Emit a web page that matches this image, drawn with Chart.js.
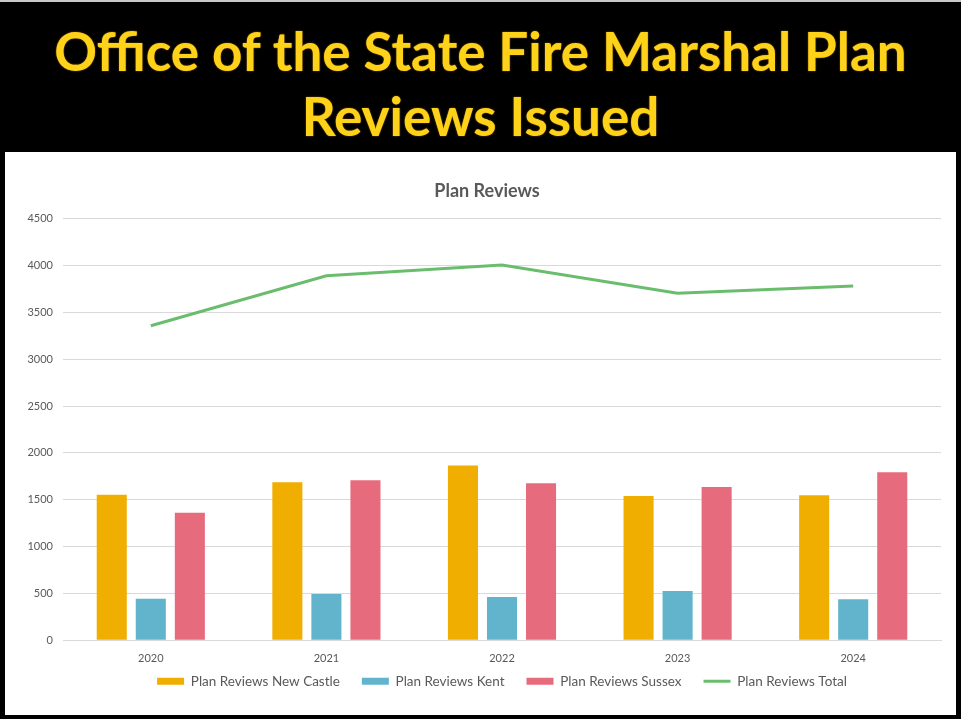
<!DOCTYPE html>
<html>
<head>
<meta charset="utf-8">
<script src="https://cdn.jsdelivr.net/npm/chart.js@4.4.0/dist/chart.umd.min.js"></script>
<style>
  html, body { margin: 0; padding: 0; background: #000; }
  #page { position: relative; width: 961px; height: 719px; background: #000; overflow: hidden; }
  #topline { position: absolute; left: 0; top: 0; width: 961px; height: 2px; background: #c8c8c8; }
  #header {
    position: absolute; left: 0; top: 18px; width: 961px;
    text-align: center; color: #ffd21a;
    font-family: Lato, sans-serif; font-weight: bold; font-size: 53px; line-height: 65px;
    text-shadow: 0 0 2px #6b4a00, 0 0 1px #6b4a00;
  }
  #panel { position: absolute; left: 5px; top: 152px; width: 951px; height: 563px; background: #fff; }
</style>
</head>
<body>
<div id="page">
  <div id="topline"></div>
  <div id="header">Office of the State Fire Marshal Plan<br>Reviews Issued</div>
  <div id="panel"><canvas id="reviewsChart" width="951" height="563"></canvas></div>
</div>
<script>
// data
var years = ['2020', '2021', '2022', '2023', '2024'];
var newCastle = [1552, 1687, 1865, 1541, 1548];
var kent = [444, 494, 462, 526, 438];
var sussex = [1360, 1709, 1677, 1637, 1794];
var total = [3356, 3890, 4004, 3704, 3780];

var grey = '#595959';

// pull the legend up closer to the year labels, nudge the title right
var nudgeBoxes = {
    id: 'nudgeBoxes',
    afterLayout: function(chart) {
        chart.legend.top -= 25;
        chart.legend.bottom -= 25;
        chart.titleBlock.left += 14;
        chart.titleBlock.right += 14;
    }
};

var ctx = document.getElementById('reviewsChart').getContext('2d');
var reviewsChart = new Chart(ctx, {
    type: 'bar',
    data: {
        labels: years,
        datasets: [
            { label: 'Plan Reviews New Castle', data: newCastle, backgroundColor: '#f0ae00', borderWidth: 0, pointStyle: 'rect' },
            { label: 'Plan Reviews Kent', data: kent, backgroundColor: '#62b4cc', borderWidth: 0, pointStyle: 'rect' },
            { label: 'Plan Reviews Sussex', data: sussex, backgroundColor: '#e66c7d', borderWidth: 0, pointStyle: 'rect' },
            { label: 'Plan Reviews Total', data: total, type: 'line', borderColor: '#6bbd6e', backgroundColor: '#6bbd6e',
              borderWidth: 3, pointRadius: 0, pointStyle: 'line', tension: 0 }
        ]
    },
    options: {
        responsive: false,
        animation: false,
        categoryPercentage: 0.667,
        barPercentage: 0.77,
        layout: { padding: { left: 0, right: 15, bottom: -8 } },
        plugins: {
            title: {
                display: true,
                text: 'Plan Reviews',
                color: grey,
                font: { family: 'Lato', size: 18, weight: 'bold' },
                padding: { top: 28, bottom: 17 }
            },
            legend: {
                position: 'bottom',
                fullSize: false,
                labels: {
                    usePointStyle: true,
                    pointStyleWidth: 27,
                    boxHeight: 7,
                    padding: 22,
                    color: grey,
                    font: { family: 'Lato', size: 13.5 }
                }
            },
            tooltip: { enabled: false }
        },
        scales: {
            x: {
                grid: { display: false, drawTicks: false },
                border: { color: '#d9d9d9' },
                ticks: { color: grey, font: { family: 'Lato', size: 11 }, padding: 12 }
            },
            y: {
                min: 0,
                max: 4500,
                afterFit: function(scale) { scale.width = 58; },
                grid: { color: '#d9d9d9', drawTicks: false },
                border: { display: false },
                ticks: {
                    stepSize: 500, color: grey, font: { family: 'Lato', size: 11 }, padding: 10,
                    callback: function(value) { return String(value); }
                }
            }
        }
    },
    plugins: [nudgeBoxes]
});
</script>
</body>
</html>
